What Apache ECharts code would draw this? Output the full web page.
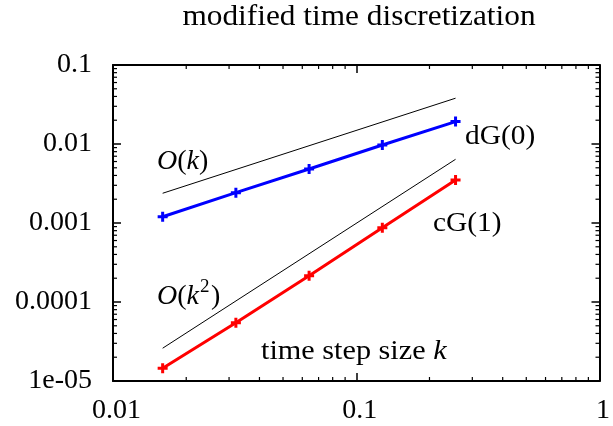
<!DOCTYPE html>
<html>
<head>
<meta charset="utf-8">
<script src="https://cdn.jsdelivr.net/npm/echarts@6/dist/echarts.min.js"></script>
<style>
  html, body { margin: 0; padding: 0; background: #fff; }
  #chart { width: 613px; height: 426px; }
</style>
</head>
<body>
<div id="chart"></div>
<script>
// step sizes k
var stepSizes = [0.016, 0.032, 0.064, 0.128, 0.256];
// errors
var dG0 = [0.0012, 0.00242, 0.00483, 0.0097, 0.0192];
var cG1 = [1.45e-5, 5.47e-5, 2.15e-4, 8.7e-4, 3.5e-3];
// slope guides
var slopeK = [[0.016, 0.00238], [0.256, 0.038]];
var slopeK2 = [[0.016, 2.6e-5], [0.256, 0.0064]];

var xTickLabels = ['0.01', '0.1', '1'];
var yTickLabels = ['1e-05', '0.0001', '0.001', '0.01', '0.1'];

var xMin = 0.01, xMax = 1, yMin = 1e-5, yMax = 0.1;
var FONT = '"Liberation Serif", "Times New Roman", serif';
var FS = 28;

// minor log ticks 2..9 per decade
function minorTicks(lo, hi) {
	var out = [];
	for (var d = lo; d < hi * 0.999; d *= 10) {
		for (var m = 2; m <= 9; m++) out.push(m * d);
	}
	return out;
}
var xMinor = minorTicks(xMin, xMax);
var yMinor = minorTicks(yMin, yMax);

function decadeIndex(v, lo) {
	return Math.round(Math.log(v / lo) / Math.LN10);
}

var plus = 'path://M3.5,0H6.5V3.5H10V6.5H6.5V10H3.5V6.5H0V3.5H3.5Z';

function pair(xs, ys) {
	return xs.map(function(x, i) { return [x, ys[i]]; });
}

var chart = echarts.init(document.getElementById('chart'));

var axisCommon = {
	type: 'log',
	logBase: 10,
	axisLine: { show: true, lineStyle: { color: '#000', width: 2 } },
	axisTick: { show: true, inside: true, length: 8, lineStyle: { color: '#000', width: 1.5 } },
	splitLine: { show: false },
	minorTick: { show: false },
	minorSplitLine: { show: false }
};

var italic = { fontStyle: 'italic', fontSize: FS, fontFamily: FONT };

function label(text, x, y, extra) {
	var style = { text: text, font: FS + 'px ' + FONT, fill: '#000', textAlign: 'left', textVerticalAlign: 'middle', rich: { i: italic } };
	return Object.assign({ type: 'text', x: x, y: y, style: style }, extra || {});
}

var option = {
	backgroundColor: '#fff',
	animation: false,
	grid: { left: 113, right: 8, top: 65, bottom: 45, containLabel: false },
	xAxis: [
		Object.assign({}, axisCommon, {
			position: 'bottom',
			min: xMin, max: xMax,
			axisLabel: {
				color: '#000', fontFamily: FONT, fontSize: FS, margin: 16,
				padding: [0, 0, 0, 7],
				formatter: function(v) { return xTickLabels[decadeIndex(v, xMin)]; }
			}
		}),
		Object.assign({}, axisCommon, {
			position: 'top',
			min: xMin, max: xMax,
			axisLabel: { show: false }
		})
	],
	yAxis: [
		Object.assign({}, axisCommon, {
			position: 'left',
			min: yMin, max: yMax,
			splitNumber: 4,
			axisLabel: {
				color: '#000', fontFamily: FONT, fontSize: FS, margin: 21,
				formatter: function(v) { return yTickLabels[decadeIndex(v, yMin)]; }
			}
		}),
		Object.assign({}, axisCommon, {
			position: 'right',
			min: yMin, max: yMax,
			splitNumber: 4,
			axisLabel: { show: false }
		})
	],
	series: [
		{
			type: 'line',
			data: slopeK,
			symbol: 'none',
			lineStyle: { color: '#000', width: 1 },
			z: 2
		},
		{
			type: 'line',
			data: slopeK2,
			symbol: 'none',
			lineStyle: { color: '#000', width: 1 },
			z: 2
		},
		{
			name: 'dG(0)',
			type: 'line',
			data: pair(stepSizes, dG0),
			symbol: plus,
			symbolSize: 10,
			itemStyle: { color: '#0000ff' },
			lineStyle: { color: '#0000ff', width: 3 },
			z: 3
		},
		{
			name: 'cG(1)',
			type: 'line',
			data: pair(stepSizes, cG1),
			symbol: plus,
			symbolSize: 10,
			itemStyle: { color: '#ff0000' },
			lineStyle: { color: '#ff0000', width: 3 },
			z: 3
		},
		{
			// minor ticks on x (bottom + top)
			type: 'custom',
			silent: true,
			clip: false,
			data: xMinor.map(function(v) { return [v, yMin]; }),
			renderItem: function(params, api) {
				var cs = params.coordSys;
				var p = api.coord([api.value(0), yMin]);
				var st = { stroke: '#000', lineWidth: 1.2 };
				return { type: 'group', children: [
					{ type: 'line', shape: { x1: p[0], y1: cs.y + cs.height, x2: p[0], y2: cs.y + cs.height - 4 }, style: st },
					{ type: 'line', shape: { x1: p[0], y1: cs.y, x2: p[0], y2: cs.y + 4 }, style: st }
				] };
			}
		},
		{
			// minor ticks on y (left + right)
			type: 'custom',
			silent: true,
			clip: false,
			data: yMinor.map(function(v) { return [xMin, v]; }),
			renderItem: function(params, api) {
				var cs = params.coordSys;
				var p = api.coord([xMin, api.value(1)]);
				var st = { stroke: '#000', lineWidth: 1.2 };
				return { type: 'group', children: [
					{ type: 'line', shape: { x1: cs.x, y1: p[1], x2: cs.x + 4, y2: p[1] }, style: st },
					{ type: 'line', shape: { x1: cs.x + cs.width, y1: p[1], x2: cs.x + cs.width - 4, y2: p[1] }, style: st }
				] };
			}
		}
	],
	graphic: [
		{
			type: 'text', x: 359, y: 17, scaleX: 1.08,
			style: { text: 'modified time discretization', font: '29px ' + FONT, fill: '#000', textAlign: 'center', textVerticalAlign: 'middle' }
		},
		label('dG(0)', 465, 137, { scaleX: 1.05 }),
		label('cG(1)', 433, 224, { scaleX: 1.05 }),
		label('{i|O}({i|k})', 157, 162),
		label('{i|O}({i|k}', 157, 297),
		{
			type: 'text', x: 200, y: 287,
			style: { text: '2', font: '19px ' + FONT, fill: '#000', textAlign: 'left', textVerticalAlign: 'middle' }
		},
		label(')', 211, 297),
		label('time step size {i|k}', 261, 352, { scaleX: 1.08 })
	]
};

chart.setOption(option);
</script>
</body>
</html>
